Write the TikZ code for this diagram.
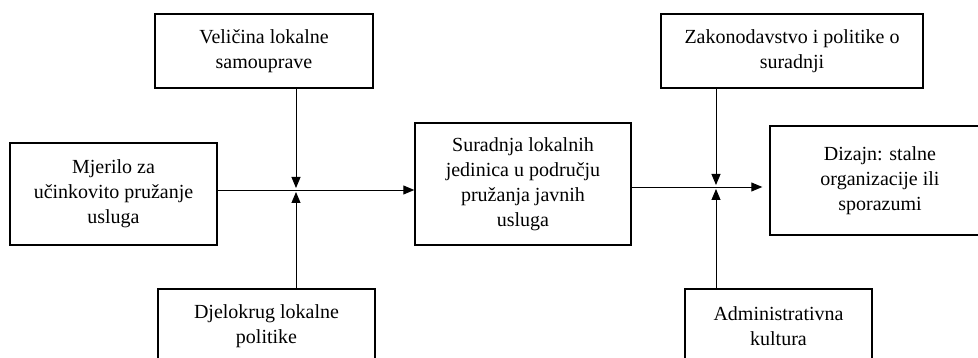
\documentclass[tikz,border=0pt]{standalone}
\usepackage{fontspec}
\setmainfont{Liberation Serif}
\usetikzlibrary{arrows.meta}

\begin{document}
\begin{tikzpicture}[x=1pt,y=-1pt,
    factor/.style={draw,line width=1.4pt,align=center,inner sep=0pt,
        font=\fontsize{20}{25}\selectfont},
    link/.style={line width=0.9pt,-{Triangle[length=11pt,width=9pt]}}]
    \useasboundingbox (0,0) rectangle (978,358);

    \node[factor,minimum width=218,minimum height=74] (velicina) at (264,51) {Veličina lokalne\\samouprave};
    \node[factor,minimum width=207,minimum height=102] (mjerilo) at (113.5,194) {Mjerilo za\\učinkovito pružanje\\usluga};
    \node[factor,minimum width=217,minimum height=74] (djelokrug) at (266.5,326) {Djelokrug lokalne\\politike};
    \node[factor,minimum width=216,minimum height=122] (suradnja) at (523,184) {Suradnja lokalnih\\jedinica u području\\pružanja javnih\\usluga};
    \node[factor,minimum width=262,minimum height=74] (zakon) at (792,51) {Zakonodavstvo i politike o\\suradnji};
    \node[factor,minimum width=220,minimum height=109] (dizajn) at (880,180.5) {Dizajn: stalne\\organizacije ili\\sporazumi};
    \node[factor,minimum width=187,minimum height=74] (kultura) at (778.5,326) {Administrativna\\kultura};

    \coordinate (lijevo) at (296,190);
    \coordinate (desno) at (716,187);

    \draw[link] (mjerilo.east |- lijevo) -- (suradnja.west |- lijevo);
    \draw[link] (velicina.south -| lijevo) -- ([yshift=2pt]lijevo);
    \draw[link] (djelokrug.north -| lijevo) -- ([yshift=-2pt]lijevo);

    \draw[link,shorten >=7pt] (suradnja.east |- desno) -- (dizajn.west |- desno);
    \draw[link] (zakon.south -| desno) -- ([yshift=2pt]desno);
    \draw[link] (kultura.north -| desno) -- ([yshift=-2pt]desno);
\end{tikzpicture}
\end{document}
